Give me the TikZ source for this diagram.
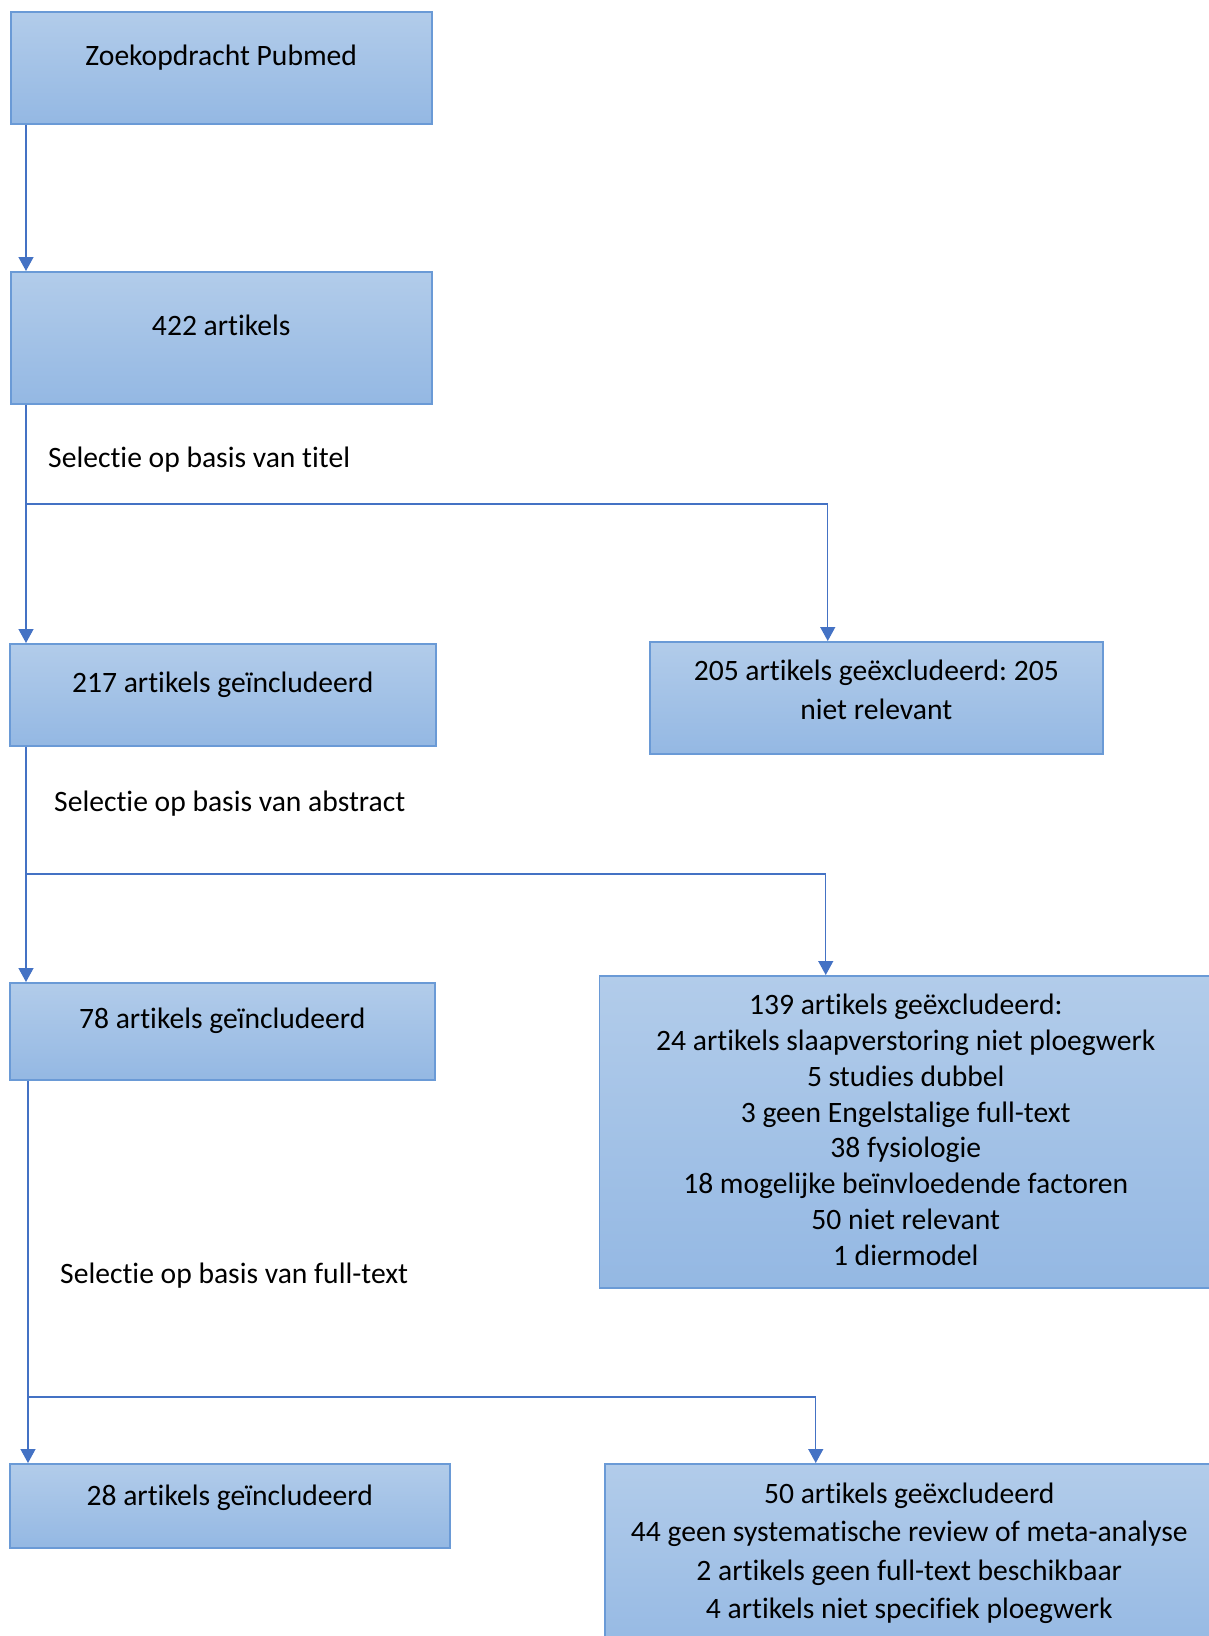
\documentclass[tikz,border=0pt]{standalone}
\usepackage{fontspec}
\setmainfont{Carlito}[Ligatures={NoCommon}]
\usetikzlibrary{arrows.meta}
\definecolor{boxtop}{HTML}{B2CCEA}
\definecolor{boxbot}{HTML}{94B8E3}
\definecolor{boxedge}{HTML}{6A9AD6}
\definecolor{arrcol}{HTML}{4472C4}
\frenchspacing
\newcommand{\bt}[2]{\raisebox{#1}[0pt][0pt]{\begin{tabular}[t]{@{}c@{}}#2\end{tabular}}}
\begin{document}
\begin{tikzpicture}[x=1pt,y=-1pt,
  flowbox/.style={draw=boxedge, line width=1.5pt, top color=boxtop, bottom color=boxbot,
    inner sep=0pt, anchor=north west, font=\fontsize{29.6}{35.8}\selectfont},
  arr/.style={draw=arrcol, line width=1.3pt, -{Triangle[width=15pt,length=14pt]}},
  lbl/.style={anchor=base west, inner sep=0pt, font=\fontsize{29.6}{34}\selectfont}]
\useasboundingbox (0,0) rectangle (1209,1636);

\node[flowbox, minimum width=421pt, minimum height=112pt] (b1) at (10,11)
  {\bt{2.5pt}{Zoekopdracht Pubmed}};
\node[flowbox, minimum width=421pt, minimum height=132pt] (b2) at (10,271)
  {\bt{2.5pt}{422 artikels}};
\node[flowbox, minimum width=426pt, minimum height=102pt] (b3) at (9,643)
  {\bt{2.5pt}{217 artikels geïncludeerd}};
\node[flowbox, minimum width=453pt, minimum height=112pt, font=\fontsize{29.6}{39}\selectfont] (b4) at (649,641)
  {\bt{17.5pt}{205 artikels geëxcludeerd: 205\\niet relevant}};
\node[flowbox, minimum width=425pt, minimum height=97pt] (b5) at (9,982)
  {\bt{3pt}{78 artikels geïncludeerd}};
\node[flowbox, minimum width=613pt, minimum height=312pt] (b6) at (598.5,975)
  {\bt{117pt}{139 artikels geëxcludeerd:\\24 artikels slaapverstoring niet ploegwerk\\5 studies dubbel\\3 geen Engelstalige full-text\\38 fysiologie\\18 mogelijke beïnvloedende factoren\\50 niet relevant\\1 diermodel}};
\node[flowbox, minimum width=440pt, minimum height=84pt] (b7) at (9,1463)
  {\bt{0.5pt}{28 artikels geïncludeerd}};
\node[flowbox, minimum width=609pt, minimum height=197pt, font=\fontsize{29.6}{38.5}\selectfont] (b8) at (604,1463)
  {\bt{59pt}{50 artikels geëxcludeerd\\44 geen systematische review of meta-analyse\\2 artikels geen full-text beschikbaar\\4 artikels niet specifiek ploegwerk}};

\node[lbl] (l1) at (48,467) {Selectie op basis van titel};
\node[lbl] (l2) at (54,811) {Selectie op basis van abstract};
\node[lbl] (l3) at (60,1283) {Selectie op basis van full-text};

\draw[arr] ([xshift=16pt]b1.south west) -- ([xshift=16pt]b2.north west);

\draw[arr] ([xshift=16pt]b2.south west) -- ([xshift=17pt]b3.north west);
\coordinate (j1) at (26,504);
\draw[arr] (j1) -| ([xshift=-48.5pt]b4.north);

\draw[arr] ([xshift=17pt]b3.south west) -- ([xshift=17pt]b5.north west);
\coordinate (j2) at (26,874);
\draw[arr] (j2) -| ([xshift=-80pt]b6.north);

\draw[arr] ([xshift=19pt]b5.south west) -- ([xshift=19pt]b7.north west);
\coordinate (j3) at (28,1397);
\draw[arr] (j3) -| ([xshift=-93.5pt]b8.north);
\end{tikzpicture}
\end{document}
